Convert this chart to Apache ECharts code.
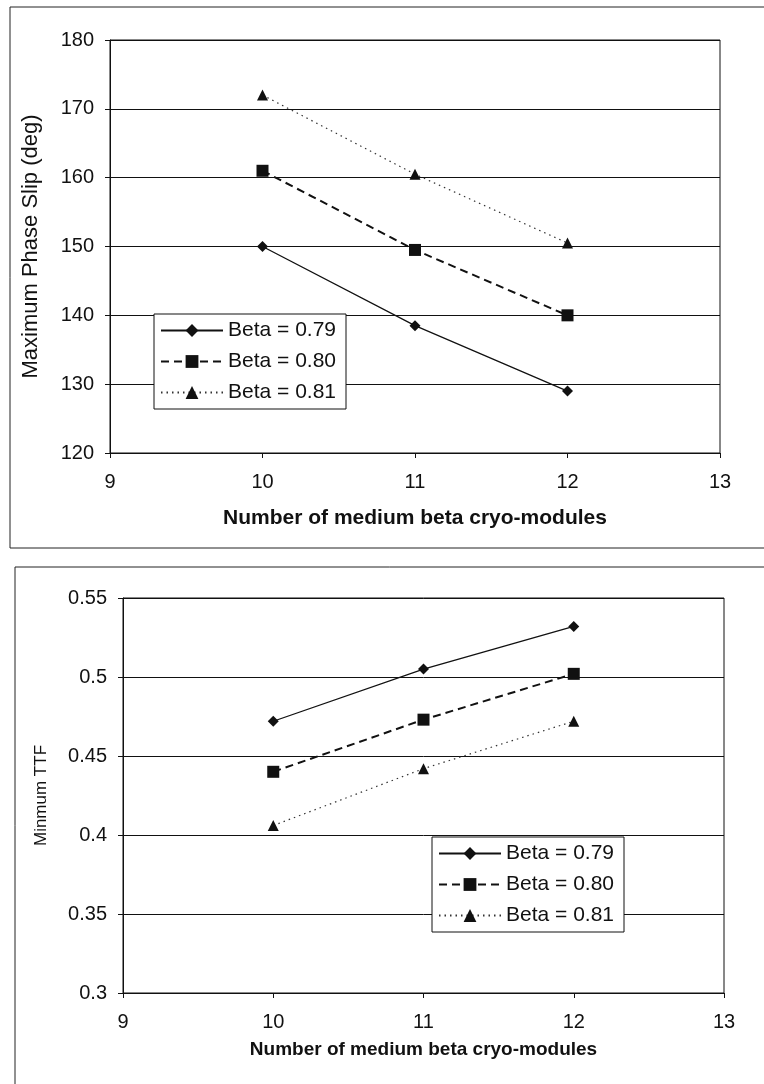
<!DOCTYPE html>
<html>
<head>
<meta charset="utf-8">
<script src="https://cdn.jsdelivr.net/npm/echarts@6/dist/echarts.min.js"></script>
<style>
  html, body { margin: 0; padding: 0; background: #fff; }
  #chart { width: 764px; height: 1084px; }
</style>
</head>
<body>
<div id="chart"></div>
<script>
// number of medium beta cryo-modules
const modules = [10, 11, 12]
const seriesNames = ['Beta = 0.79', 'Beta = 0.80', 'Beta = 0.81']

// top panel: maximum phase slip (deg)
const phaseSlip079 = [150, 138.5, 129]
const phaseSlip080 = [161, 149.5, 140]
const phaseSlip081 = [172, 160.5, 150.5]

// bottom panel: minimum TTF
const ttf079 = [0.472, 0.505, 0.532]
const ttf080 = [0.44, 0.473, 0.502]
const ttf081 = [0.406, 0.442, 0.472]

const FONT = 'Arial, "Liberation Sans", sans-serif'
const INK = '#111'

const styles = [
  {symbol: 'diamond', symbolSize: 11, lineStyle: {color: INK, width: 1.3, type: 'solid'}},
  {symbol: 'rect', symbolSize: 12, lineStyle: {color: INK, width: 2, type: [8, 5]}},
  {symbol: 'triangle', symbolSize: 11, lineStyle: {color: '#333', width: 1.2, type: [1.5, 4]}},
]

const makeSeries = (values, idx, axisIdx) => ({
  name: seriesNames[idx],
  type: 'line',
  xAxisIndex: axisIdx,
  yAxisIndex: axisIdx,
  data: modules.map((m, i) => [m, values[i]]),
  symbol: styles[idx].symbol,
  symbolSize: styles[idx].symbolSize,
  itemStyle: {color: INK},
  lineStyle: styles[idx].lineStyle,
  emphasis: {disabled: true},
  silent: true,
  z: 5,
})

const xAxisBase = (gridIndex, nameGap, nameSize) => ({
  type: 'value',
  gridIndex,
  min: 9,
  max: 13,
  interval: 1,
  name: 'Number of medium beta cryo-modules',
  nameLocation: 'middle',
  nameGap,
  nameTextStyle: {fontFamily: FONT, fontSize: nameSize, fontWeight: 'bold', color: INK},
  axisLine: {show: true, lineStyle: {color: INK, width: 1}},
  axisTick: {show: true, length: 5, lineStyle: {color: INK}},
  axisLabel: {fontFamily: FONT, fontSize: 20, color: INK, margin: 19},
  splitLine: {show: false},
})

const yAxisBase = (gridIndex, min, max, interval, name, nameGap, nameSize) => ({
  type: 'value',
  gridIndex,
  min,
  max,
  interval,
  name,
  nameLocation: 'middle',
  nameGap,
  nameTextStyle: {fontFamily: FONT, fontSize: nameSize, color: INK},
  axisLine: {show: true, lineStyle: {color: INK, width: 1}},
  axisTick: {show: true, length: 5, lineStyle: {color: INK}},
  axisLabel: {fontFamily: FONT, fontSize: 20, color: INK, margin: 16},
  splitLine: {show: true, lineStyle: {color: INK, width: 1}},
})

const legendBase = (left, top) => ({
  orient: 'vertical',
  left,
  top,
  padding: [6, 10, 6, 6],
  itemGap: 10,
  itemWidth: 62,
  itemHeight: 16,
  backgroundColor: '#fff',
  borderColor: INK,
  borderWidth: 1,
  textStyle: {fontFamily: FONT, fontSize: 21, color: INK},
  selectedMode: false,
})

const frameLine = (x1, y1, x2, y2) => ({
  type: 'line',
  shape: {x1, y1, x2, y2},
  style: {stroke: '#222', lineWidth: 1},
  silent: true,
})

const chart = echarts.init(document.getElementById('chart'), null, {renderer: 'canvas'})

chart.setOption({
  animation: false,
  backgroundColor: '#fff',
  grid: [
    {left: 110, top: 40, width: 610, height: 413, show: true, borderColor: INK, borderWidth: 1, backgroundColor: 'transparent'},
    {left: 123, top: 598, width: 601, height: 395, show: true, borderColor: INK, borderWidth: 1, backgroundColor: 'transparent'},
  ],
  xAxis: [xAxisBase(0, 55, 21), xAxisBase(1, 47, 19)],
  yAxis: [
    yAxisBase(0, 120, 180, 10, 'Maximum Phase Slip (deg)', 68, 22),
    yAxisBase(1, 0.3, 0.55, 0.05, 'Minmum TTF', 73, 17),
  ],
  legend: [
    Object.assign(legendBase(154, 314), {data: seriesNames.map((n) => n)}),
  ],
  series: [
    makeSeries(phaseSlip079, 0, 0),
    makeSeries(phaseSlip080, 1, 0),
    makeSeries(phaseSlip081, 2, 0),
  ],
  graphic: [
    // outer frame of the top figure
    frameLine(10, 7, 764, 7),
    frameLine(10, 7, 10, 548),
    frameLine(10, 548, 764, 548),
    // outer frame of the bottom figure
    frameLine(15, 567, 764, 567),
    frameLine(15, 567, 15, 1084),
  ],
})

// bottom panel gets its own legend, so its series live on a second chart layer
const overlay = document.createElement('div')
overlay.style.cssText = 'position:absolute;left:0;top:0;width:764px;height:1084px;pointer-events:none;'
document.body.appendChild(overlay)
const chart2 = echarts.init(overlay, null, {renderer: 'canvas'})
chart2.setOption({
  animation: false,
  grid: [{left: 123, top: 598, width: 601, height: 395, show: false}],
  xAxis: [Object.assign(xAxisBase(0, 47, 19), {show: false})],
  yAxis: [Object.assign(yAxisBase(0, 0.3, 0.55, 0.05, '', 73, 17), {show: false})],
  legend: Object.assign(legendBase(432, 837), {data: seriesNames.map((n) => n)}),
  series: [
    makeSeries(ttf079, 0, 0),
    makeSeries(ttf080, 1, 0),
    makeSeries(ttf081, 2, 0),
  ],
})
</script>
</body>
</html>
